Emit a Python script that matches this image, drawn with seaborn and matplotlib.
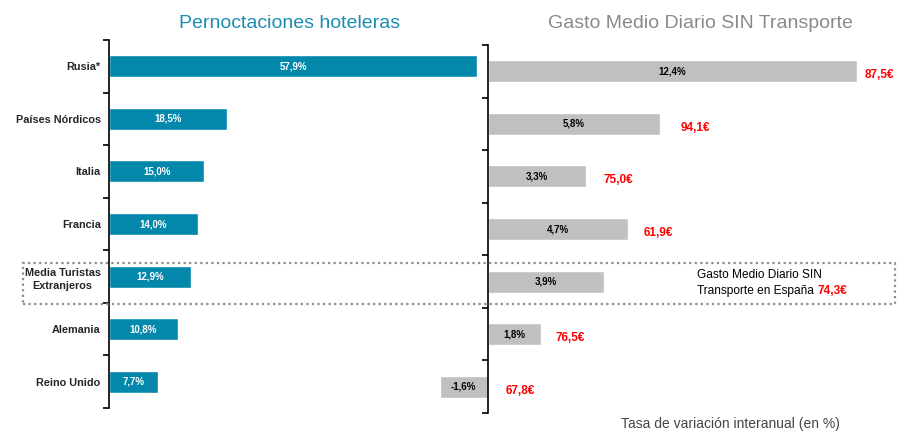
import numpy as np
import matplotlib
matplotlib.use("Agg")
import matplotlib.pyplot as plt
from matplotlib.patches import Rectangle
import seaborn as sns

# Datos
paises = ["Rusia*", "Países Nórdicos", "Italia", "Francia",
          "Media Turistas\nExtranjeros", "Alemania", "Reino Unido"]
pernoctaciones = [57.9, 18.5, 15.0, 14.0, 12.9, 10.8, 7.7]
gasto_var = [12.4, 5.8, 3.3, 4.7, 3.9, 1.8, -1.6]
gasto_medio = ["87,5€", "94,1€", "75,0€", "61,9€", None, "76,5€", "67,8€"]
gasto_espana = "74,3€"

# Estilo
sns.set_theme(style="white")
plt.rcParams['font.family'] = ['Liberation Sans', 'DejaVu Sans']

W, H = 901, 433
fig = plt.figure(figsize=(W / 100, H / 100), dpi=100)

def px(x, y):
    return x / W, 1 - y / H

azul = "#0388ab"
gris = "#c0c0c0"

# Panel izquierdo: pernoctaciones
ax1 = fig.add_axes([109 / W, 1 - 408 / H, (478 - 109) / W, 368 / H])
sns.barplot(x=pernoctaciones, y=paises, orient="h", color=azul,
            width=0.42, saturation=1, ax=ax1)
ax1.set_xlim(0, 58.05)

# Panel derecho: gasto medio diario
ax2 = fig.add_axes([428 / W, 1 - 413 / H, (863 - 428) / W, 368 / H])
sns.barplot(x=gasto_var, y=paises, orient="h", color=gris,
            width=0.42, saturation=1, ax=ax2)
ax2.set_xlim(-2, 12.6)
ax2.spines['left'].set_position(('data', 0))

for ax in (ax1, ax2):
    ax.set_ylim(6.5, -0.5)
    ax.set_xlabel("")
    ax.set_ylabel("")
    ax.set_xticks([])
    for s in ("top", "right", "bottom"):
        ax.spines[s].set_visible(False)
    ax.spines['left'].set_color("black")
    ax.spines['left'].set_linewidth(1.2)
    ax.set_yticks(np.arange(-0.5, 7, 1), minor=True)
    ax.tick_params(axis='y', which='major', length=0, pad=6)
    ax.tick_params(axis='y', which='minor', length=4, width=1.2,
                   color="black", direction="out", left=True)
    ax.patch.set_alpha(0)

ax1.set_yticks(range(len(paises)))
ax1.set_yticklabels(paises, fontsize=7.8, fontweight="bold",
                    multialignment="center", linespacing=1.45)
ax2.set_yticks(range(len(paises)))
ax2.set_yticklabels([])

# Etiquetas dentro de las barras
for i, v in enumerate(pernoctaciones):
    ax1.text(v / 2, i, f"{v:.1f}%".replace(".", ","), ha="center",
             va="center", color="white", fontsize=7, fontweight="bold")
for i, v in enumerate(gasto_var):
    ax2.text(v / 2, i, f"{v:.1f}%".replace(".", ","), ha="center",
             va="center", color="black", fontsize=7, fontweight="bold")

# Gasto medio en euros (rojo)
desplaz = [8, 20, 18, 16, 0, 14, 18]
for i, (v, g) in enumerate(zip(gasto_var, gasto_medio)):
    if g is None:
        continue
    ax2.annotate(g, (max(v, 0), i), xytext=(desplaz[i], -4),
                 textcoords="offset pixels", ha="left", va="center",
                 color="#ff0000", fontsize=8.5, fontweight="bold")

# Recuadro de la media
x0, y0 = px(23, 304)
x1, y1 = px(895, 263)
fig.patches.append(Rectangle((x0, y0), x1 - x0, y1 - y0, transform=fig.transFigure,
                             fill=False, edgecolor="#8c8c8c", linestyle=(0, (1, 1.5)),
                             linewidth=1.6, zorder=0))

fig.text(*px(697, 275), "Gasto Medio Diario SIN", fontsize=8.6,
         color="black", ha="left", va="center")
t = fig.text(*px(697, 291), "Transporte en España ", fontsize=8.6,
             color="black", ha="left", va="center")
fig.canvas.draw()
bb = t.get_window_extent()
fig.text(bb.x1 / W, 1 - 291 / H, gasto_espana, fontsize=8.6, color="#ff0000",
         fontweight="bold", ha="left", va="center")

# Títulos
fig.text(*px(290, 28), "Pernoctaciones hoteleras", fontsize=14, color="#1a8db0",
         ha="center", va="baseline")
fig.text(*px(700, 28), "Gasto Medio Diario SIN Transporte", fontsize=14,
         color="#8a8a8a", ha="center", va="baseline")

fig.text(*px(730, 424), "Tasa de variación interanual (en %)", fontsize=10,
         color="#444444", ha="center", va="center")

fig.savefig("out.png", dpi=100)
